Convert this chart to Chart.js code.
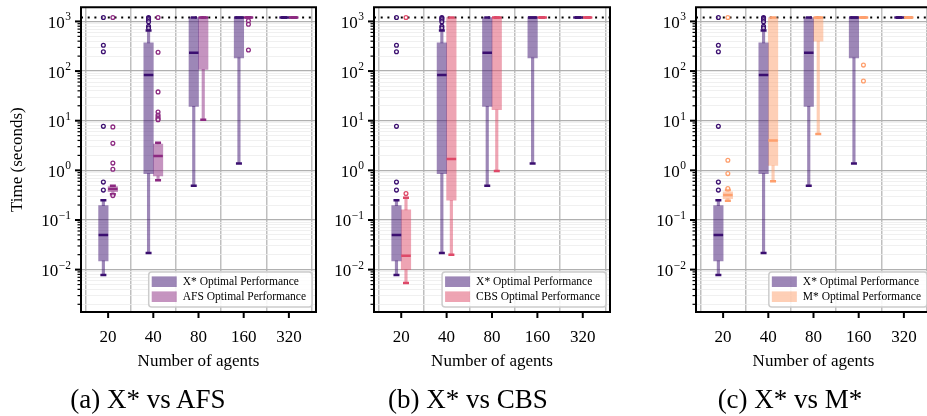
<!DOCTYPE html>
<html>
<head>
<meta charset="utf-8">
<title>Optimal performance comparison</title>
<script src="https://cdn.jsdelivr.net/npm/chart.js@4.4.1/dist/chart.umd.min.js"></script>
<style>
  html, body { margin: 0; padding: 0; background: #fff; }
  body { position: relative; width: 927px; height: 416px; overflow: hidden; font-family: "Liberation Serif", serif; }
  canvas { position: absolute; top: 0; }
  .caption { position: absolute; top: 385px; font-size: 27px; line-height: 29px; white-space: nowrap; transform: translateX(-50%); color: #000; }
</style>
</head>
<body>
<canvas id="panelA" width="330" height="416" style="left:0px"></canvas>
<canvas id="panelB" width="300" height="416" style="left:320px"></canvas>
<canvas id="panelC" width="300" height="416" style="left:640px"></canvas>
<div class="caption" style="left:148px">(a) X* vs AFS</div>
<div class="caption" style="left:468px">(b) X* vs CBS</div>
<div class="caption" style="left:790px">(c) X* vs M*</div>
<script>
// number of agents on the x axis
const agents = ['20', '40', '80', '160', '320'];
const timeLimit = 1200;

// per agent count: [lower whisker, Q1, median, Q3, upper whisker] (seconds)
const xstarStats = [
  [0.0078, 0.015, 0.05, 0.195, 0.25],
  [0.0215, 0.86, 83, 370, 660],
  [0.49, 19.5, 235, 1200, 1200],
  [1.38, 185, 1200, 1200, 1200],
  [1200, 1200, 1200, 1200, 1200]
];
const xstarFliers = [
  [1200, 330, 245, 7.7, 0.58, 0.40],
  [1200, 1150, 1080, 990, 800, 740],
  [],
  [],
  []
];

const afsStats = [
  [0.33, 0.37, 0.42, 0.47, 0.49],
  [0.63, 0.77, 1.95, 3.4, 3.6],
  [10.5, 108, 1200, 1200, 1200],
  [1200, 1200, 1200, 1200, 1200],
  [1200, 1200, 1200, 1200, 1200]
];
const afsFliers = [
  [1200, 7.5, 3.5, 1.4, 1.05, 0.31],
  [1200, 240, 38, 15, 13, 12, 11, 10.5],
  [],
  [1030, 880, 265],
  []
];

const cbsStats = [
  [0.0054, 0.01, 0.019, 0.16, 0.28],
  [0.02, 0.25, 1.7, 1200, 1200],
  [0.97, 16.6, 1200, 1200, 1200],
  [1200, 1200, 1200, 1200, 1200],
  [1200, 1200, 1200, 1200, 1200]
];
const cbsFliers = [
  [1200, 0.34],
  [],
  [],
  [],
  []
];

const mstarStats = [
  [0.245, 0.27, 0.32, 0.37, 0.40],
  [0.6, 1.25, 4.0, 1200, 1200],
  [5.4, 400, 1200, 1200, 1200],
  [1200, 1200, 1200, 1200, 1200],
  [1200, 1200, 1200, 1200, 1200]
];
const mstarFliers = [
  [1200, 1.6, 0.86, 0.43],
  [],
  [],
  [132, 63],
  []
];

// y ticks: mantissa x 10^exponent
const tickMantissas = [1, 2, 3, 4, 5, 6, 7, 8, 9];
const tickExponents = [-3, -2, -1, 0, 1, 2, 3];

const yMin = 0.0014, yMax = 1930;
const xMin = -0.6, xMax = 4.6;

const palette = {
  'X*': { dark: '#3b0f70', fill: 'rgba(59,15,112,0.5)' },
  'AFS': { dark: '#8c2981', fill: 'rgba(140,41,129,0.5)' },
  'CBS': { dark: '#de4968', fill: 'rgba(222,73,104,0.5)' },
  'M*': { dark: '#fe9f6d', fill: 'rgba(254,159,109,0.5)' }
};

Chart.defaults.font.family = '"Liberation Serif", serif';
Chart.defaults.font.size = 16;
Chart.defaults.color = '#000';

function boxDatasets(name, stats, fliers, shift) {
  const c = palette[name];
  const pos = i => i + shift;
  return [
    { // whiskers
      type: 'bar', grouped: false, barThickness: 2.5, backgroundColor: c.fill, borderWidth: 0, order: 8,
      data: stats.flatMap((s, i) => [{x: pos(i), y: [s[0], s[1]]}, {x: pos(i), y: [s[3], s[4]]}])
    },
    { // boxes
      type: 'bar', grouped: false, barThickness: 9.5, backgroundColor: c.fill, borderWidth: 0, order: 6,
      legendLabel: name + ' Optimal Performance',
      data: stats.map((s, i) => ({x: pos(i), y: [s[1], s[3]]}))
    },
    { // medians
      type: 'scatter', pointStyle: 'line', pointRadius: 4.75, pointBorderWidth: 2.5, pointBorderColor: c.dark, order: 4,
      data: stats.map((s, i) => ({x: pos(i), y: s[2]}))
    },
    { // caps
      type: 'scatter', pointStyle: 'line', pointRadius: 3, pointBorderWidth: 2.5, pointBorderColor: c.dark, order: 3,
      data: stats.flatMap((s, i) => [{x: pos(i), y: s[0]}, {x: pos(i), y: s[4]}])
    },
    { // outliers
      type: 'scatter', pointStyle: 'circle', pointRadius: 1.9, pointBorderWidth: 1.3, pointBorderColor: c.dark,
      pointBackgroundColor: 'rgba(255,255,255,0.5)', order: 2,
      data: fliers.flatMap((f, i) => f.map(v => ({x: pos(i), y: v})))
    }
  ];
}

const panelDecor = {
  id: 'panelDecor',
  afterDraw(chart) {
    const {ctx, chartArea: a, scales: {x, y}} = chart;
    ctx.save();
    ctx.strokeStyle = '#000';
    // y tick marks
    y.ticks.forEach(t => {
      const py = y.getPixelForValue(t.value);
      ctx.lineWidth = t.major ? 2 : 1.2;
      const len = t.major ? 6 : 3.5;
      ctx.beginPath(); ctx.moveTo(a.left - len, py); ctx.lineTo(a.left, py); ctx.stroke();
    });
    // x tick marks
    x.ticks.forEach(t => {
      const px = x.getPixelForValue(t.value);
      ctx.lineWidth = 2;
      ctx.beginPath(); ctx.moveTo(px, a.bottom); ctx.lineTo(px, a.bottom + 6); ctx.stroke();
    });
    // y labels 10^k
    ctx.fillStyle = '#000';
    ctx.textBaseline = 'alphabetic';
    ctx.textAlign = 'right';
    y.ticks.filter(t => t.major).forEach(t => {
      const py = y.getPixelForValue(t.value);
      const sup = String(Math.round(Math.log10(t.value))).replace('-', '\u2212');
      const right = a.left - 10;
      ctx.font = '11.5px "Liberation Serif"';
      const sw = ctx.measureText(sup).width;
      ctx.fillText(sup, right, py - 1);
      ctx.font = '17px "Liberation Serif"';
      ctx.fillText('10', right - sw - 0.5, py + 6.5);
    });
    // frame
    ctx.lineWidth = 2;
    ctx.strokeRect(a.left, a.top, a.right - a.left, a.bottom - a.top);
    // legend
    const entries = chart.data.datasets.filter(d => d.legendLabel);
    ctx.font = '11.5px "Liberation Serif"';
    const textW = Math.max(...entries.map(e => ctx.measureText(e.legendLabel).width));
    const boxW = 34 + textW + 6, boxH = 35;
    const bx = a.right - 4 - boxW, by = a.bottom - 5 - boxH;
    ctx.fillStyle = 'rgba(255,255,255,0.85)';
    ctx.strokeStyle = '#cccccc';
    ctx.lineWidth = 1.5;
    ctx.beginPath(); ctx.roundRect(bx, by, boxW, boxH, 3); ctx.fill(); ctx.stroke();
    entries.forEach((e, i) => {
      const cy = by + 9.7 + i * 15;
      ctx.fillStyle = e.backgroundColor;
      ctx.fillRect(bx + 3, cy - 5.3, 25, 10.6);
      ctx.fillStyle = '#000';
      ctx.textAlign = 'left';
      ctx.textBaseline = 'middle';
      ctx.fillText(e.legendLabel, bx + 34, cy);
    });
    ctx.restore();
  }
};

function makePanel(id, other, stats, fliers, axisWidth, padRight, showTitle) {
  const datasets = [
    {
      type: 'line', data: [{x: xMin, y: timeLimit}, {x: xMax, y: timeLimit}],
      borderColor: '#000', borderWidth: 2, borderDash: [2, 4.7], pointRadius: 0, order: 10
    },
    ...boxDatasets('X*', xstarStats, xstarFliers, -0.105),
    ...boxDatasets(other, stats, fliers, 0.105)
  ];
  return new Chart(document.getElementById(id), {
    type: 'scatter',
    data: { datasets },
    options: {
      responsive: false,
      animation: false,
      events: [],
      layout: { padding: { left: 0, right: padRight, top: 5, bottom: 44 } },
      plugins: { legend: { display: false }, tooltip: { enabled: false } },
      scales: {
        x: {
          type: 'linear', min: xMin, max: xMax, offset: false,
          afterBuildTicks: s => { s.ticks = agents.map((a, i) => ({value: i})); },
          afterFit: s => { s.height = 60; },
          ticks: { autoSkip: false, maxRotation: 0, padding: 15, font: {size: 17}, callback: v => agents[v] },
          grid: { color: '#bfbfbf', lineWidth: 1.5, drawTicks: false },
          border: { display: false },
          title: { display: true, text: 'Number of agents', font: {size: 17}, padding: {top: 0, bottom: 0} }
        },
        y: {
          type: 'logarithmic', min: yMin, max: yMax,
          afterBuildTicks: s => {
            const t = [];
            tickExponents.forEach(e => tickMantissas.forEach(m => {
              const v = m * Math.pow(10, e);
              if (v >= yMin && v <= yMax) t.push({value: v, major: m === 1});
            }));
            s.ticks = t;
          },
          afterFit: s => { s.width = axisWidth; },
          ticks: { display: false, autoSkip: false },
          grid: {
            drawTicks: false,
            color: c => (c.tick && c.tick.major) ? '#b0b0b0' : '#ececec',
            lineWidth: c => (c.tick && c.tick.major) ? 1.2 : 0.8
          },
          border: { display: false },
          title: { display: showTitle, text: 'Time (seconds)', font: {size: 17}, padding: {top: 7.8, bottom: 0} }
        }
      }
    },
    plugins: [panelDecor]
  });
}

makePanel('panelA', 'AFS', afsStats, afsFliers, 81, 14, true);
makePanel('panelB', 'CBS', cbsStats, cbsFliers, 54, 10, false);
makePanel('panelC', 'M*', mstarStats, mstarFliers, 56, 9, false);
</script>
</body>
</html>
